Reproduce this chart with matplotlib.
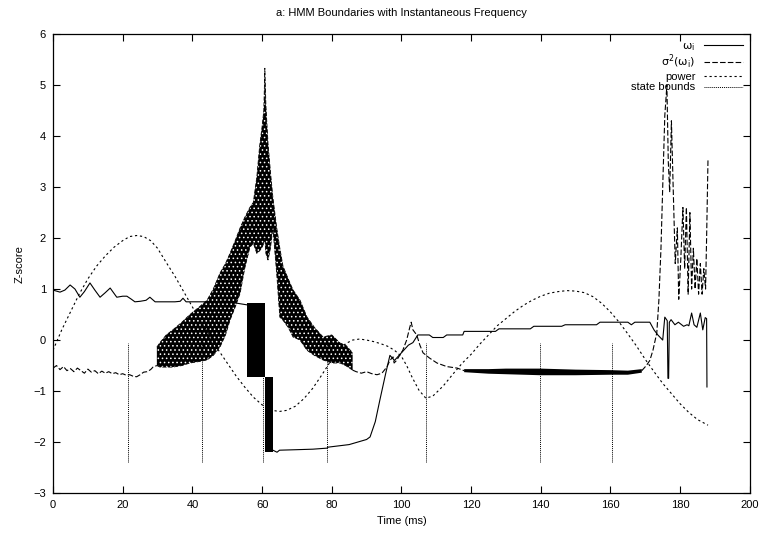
import matplotlib
import numpy as np

matplotlib.use("Agg")
import matplotlib.pyplot as plt

plt.rcParams["font.family"] = ["Liberation Sans", "DejaVu Sans"]
plt.rcParams["hatch.linewidth"] = 0.6

# omega_i (solid), split around the fast-switching block
omega_x1 = [0, 1, 2, 3.4, 4.9, 6.3, 7.7, 9, 10.6, 12, 13.5, 15, 16.4, 18.3, 20, 21.2, 22.5,
            23.5, 25, 26.7, 27.8, 29.3, 32, 35, 36.5, 37.3, 38.2, 40, 45, 50, 53, 55.7]
omega_y1 = [0.98, 0.96, 0.94, 0.98, 1.08, 1.0, 0.84, 0.95, 1.12, 0.98, 0.84, 0.93, 1.02, 0.84,
            0.86, 0.86, 0.8, 0.75, 0.76, 0.78, 0.84, 0.75, 0.75, 0.75, 0.76, 0.82, 0.75, 0.75,
            0.75, 0.76, 0.72, 0.69]
# fast-switching blocks: (x start, x end, low, high)
omega_blocks = [(55.7, 60.8, -0.73, 0.72), (60.8, 63.1, -2.2, -0.73)]
omega_x2 = [63.1, 64.3, 65, 70, 74.6, 78.6, 79, 85, 90, 91, 92.5, 93.8, 95.5, 96.7, 98, 100,
            102, 103.3, 104.7, 108, 109, 112, 113, 117.6, 118, 127, 128, 137, 138, 146, 147,
            156, 157, 165, 166, 167, 171.3, 172.5, 173.6, 175, 175.6, 176.3, 176.5, 176.7,
            176.9, 177.4, 178.5, 179.5, 181, 182, 182.5, 183.3, 184, 184.8, 185.8, 186.5,
            187.2, 187.6, 187.7]
omega_y2 = [-2.16, -2.2, -2.16, -2.15, -2.14, -2.12, -2.1, -2.05, -1.95, -1.9, -1.6, -1.18,
            -0.65, -0.3, -0.4, -0.25, -0.1, -0.05, 0.1, 0.1, 0.05, 0.05, 0.1, 0.1, 0.17, 0.17,
            0.22, 0.22, 0.27, 0.27, 0.3, 0.3, 0.35, 0.35, 0.3, 0.35, 0.35, 0.2, 0.1, 0.0, 0.45,
            0.38, -0.75, -0.75, 0.35, 0.4, 0.3, 0.35, 0.27, 0.3, 0.28, 0.53, 0.3, 0.25, 0.53,
            0.2, 0.44, 0.42, -0.92]

# sigma^2(omega_i) (dashed): line pieces + oscillating bands (envelopes)
var_x1 = [0, 1, 2, 3, 4, 5, 6, 7, 8, 9, 10, 11, 12, 13, 14, 15, 16, 17, 18, 19, 20, 21, 22,
          23, 24, 25, 26, 27, 28, 28.7, 29.8]
var_y1 = [-0.55, -0.5, -0.58, -0.52, -0.6, -0.56, -0.62, -0.55, -0.6, -0.65, -0.57, -0.63,
          -0.6, -0.66, -0.61, -0.65, -0.62, -0.66, -0.64, -0.68, -0.66, -0.69, -0.68, -0.71,
          -0.72, -0.68, -0.63, -0.62, -0.58, -0.53, -0.5]
band1_x = [29.8, 30.7, 32.5, 34.4, 37, 39.3, 42, 44.2, 46, 47.9, 49.5, 50.8, 52.3, 53.7, 55,
           56.5, 57.5, 58.5, 59.3, 60, 60.5, 60.8, 61.1, 61.7, 62.4, 63.1, 64.2, 65.1, 66, 67.5,
           68.9, 70.9, 72.9, 75, 77.5, 80, 82.4, 84, 86]
band1_hi = [-0.14, -0.05, 0.1, 0.2, 0.35, 0.5, 0.65, 0.78, 1.0, 1.31, 1.5, 1.7, 1.95, 2.2, 2.4,
            2.6, 2.7, 3.2, 3.8, 4.18, 4.5, 5.33, 4.6, 3.86, 3.3, 2.8, 2.2, 1.8, 1.45, 1.2, 0.98,
            0.78, 0.45, 0.25, 0.06, 0.1, -0.06, -0.1, -0.25]
band1_lo = [-0.5, -0.53, -0.53, -0.53, -0.5, -0.45, -0.42, -0.39, -0.3, -0.14, 0.1, 0.39, 0.65,
            0.92, 1.4, 1.82, 1.9, 1.7, 1.75, 1.82, 1.9, 2.0, 1.7, 1.57, 1.8, 2.2, 1.31, 0.45,
            0.39, 0.25, 0.06, 0.0, -0.2, -0.3, -0.39, -0.45, -0.45, -0.5, -0.59]
var_x2 = [86, 87, 88.5, 90, 91.5, 93, 94.4, 95.8, 96.7, 97.6, 97.9, 98.6, 99.5, 100.4, 101.5,
          102.4, 102.8, 103.3, 104.4, 105.3, 106.2, 108, 110.2, 113, 116, 118]
var_y2 = [-0.59, -0.62, -0.65, -0.62, -0.66, -0.68, -0.65, -0.53, -0.4, -0.33, -0.45, -0.4,
          -0.3, -0.2, 0.0, 0.25, 0.35, 0.2, 0.1, -0.1, -0.25, -0.35, -0.45, -0.52, -0.55, -0.6]
band2_x = [118, 125, 130, 140, 150, 160, 165, 169]
band2_hi = [-0.57, -0.57, -0.56, -0.56, -0.58, -0.59, -0.6, -0.57]
band2_lo = [-0.63, -0.66, -0.67, -0.69, -0.69, -0.68, -0.68, -0.64]
var_x3 = [169, 170.3, 171.3, 172.2, 173.3, 173.9, 174.5, 175, 175.6, 176.2, 176.6, 177, 177.5,
          178, 178.6, 179.2, 179.6, 180.2, 180.8, 181.3, 181.8, 182.3, 182.8, 183.3, 183.8,
          184.3, 184.8, 185.3, 185.8, 186.3, 186.8, 187.3, 187.6, 188]
var_y3 = [-0.6, -0.5, -0.4, -0.2, 0.14, 0.78, 1.8, 3.0, 4.4, 5.0, 3.5, 2.9, 4.3, 3.0, 1.5, 2.2,
          0.8, 1.6, 2.6, 1.4, 2.6, 0.9, 2.5, 1.0, 1.8, 1.0, 1.6, 0.9, 1.5, 0.9, 1.4, 1.0, 2.0,
          3.55]

# power (short dashes)
power_x = [0, 2.5, 5, 7.5, 10, 12.5, 15, 17.5, 20, 22, 24, 26, 28, 30, 32.5, 35, 37.5, 40, 42.5,
           45, 47.5, 50, 52.5, 55, 57.5, 60, 63, 65, 67, 69.5, 72, 74.5, 77, 78.6, 80, 82, 84,
           86, 88, 90, 92, 94, 96, 98, 100, 101.5, 103, 105, 107, 109, 112, 115, 117.5, 120,
           122.5, 125, 127.5, 130, 132.5, 135, 137.5, 140, 142.5, 145, 147.5, 150, 152.5, 155,
           157.5, 160, 162.5, 165, 167.5, 170, 172.5, 175, 177.5, 180, 182.5, 185, 188]
power_y = [-0.2, 0.2, 0.55, 0.9, 1.2, 1.45, 1.65, 1.82, 1.95, 2.03, 2.05, 2.03, 1.95, 1.8, 1.52,
           1.25, 0.95, 0.65, 0.35, 0.1, -0.2, -0.45, -0.7, -0.92, -1.12, -1.27, -1.38, -1.4,
           -1.38, -1.3, -1.15, -0.95, -0.7, -0.53, -0.38, -0.2, -0.07, 0.0, 0.02, 0.0, -0.03,
           -0.07, -0.12, -0.2, -0.32, -0.5, -0.72, -0.98, -1.14, -1.1, -0.9, -0.65, -0.45,
           -0.28, -0.08, 0.1, 0.28, 0.42, 0.56, 0.68, 0.78, 0.86, 0.92, 0.95, 0.97, 0.96, 0.93,
           0.85, 0.72, 0.55, 0.35, 0.12, -0.12, -0.38, -0.62, -0.85, -1.05, -1.25, -1.42,
           -1.56, -1.67]

# HMM state boundaries (dotted verticals)
bounds = [21.5, 42.8, 60.3, 78.6, 107, 139.7, 160.4]
bound_top, bound_bottom = -0.05, -2.4

fig = plt.figure(figsize=(7.62, 5.33), dpi=100)
ax = fig.add_axes([0.0696, 0.075, 0.9144, 0.861])

lw = 0.8
omega_line, = ax.plot(omega_x1, omega_y1, color="black", lw=lw, label=r"$\mathrm{\omega_i}$")
ax.plot(omega_x2, omega_y2, color="black", lw=lw)
for x0, x1, lo, hi in omega_blocks:
    ax.fill_between([x0, x1], [lo, lo], [hi, hi], color="black", lw=0)

dash_var = (0, (5, 2))
var_line, = ax.plot(var_x1, var_y1, color="black", lw=lw, ls=dash_var,
                    label=r"$\mathrm{\sigma^2(\omega_i)}$")
ax.fill_between(band1_x, band1_lo, band1_hi, facecolor="black", edgecolor="white",
                hatch="....", lw=0)
ax.plot(band1_x, band1_hi, color="black", lw=0.6, ls=dash_var)
ax.plot(band1_x, band1_lo, color="black", lw=0.6, ls=dash_var)
ax.plot(var_x2, var_y2, color="black", lw=lw, ls=dash_var)
ax.fill_between(band2_x, band2_lo, band2_hi, facecolor="black", lw=0)
ax.plot(var_x3, var_y3, color="black", lw=lw, ls=dash_var)

power_line, = ax.plot(power_x, power_y, color="black", lw=lw, ls=(0, (2, 2.5)), label="power")
ax.vlines(bounds, bound_bottom, bound_top, colors="black", lw=0.7, linestyles=(0, (1, 1)))
bound_line, = ax.plot([], [], color="black", lw=0.7, ls=(0, (1, 1)), label="state bounds")

ax.set_xlim(0, 200)
ax.set_ylim(-3, 6)
ax.set_xticks(range(0, 201, 20))
ax.set_yticks(range(-3, 7))
ax.tick_params(direction="in", top=True, right=True, length=5, width=0.8, labelsize=8,
               pad=5)
for sp in ax.spines.values():
    sp.set_linewidth(0.9)

ax.set_title("a: HMM Boundaries with Instantaneous Frequency", fontsize=8, pad=13)
ax.set_xlabel("Time (ms)", fontsize=8, labelpad=4)
ax.set_ylabel("Z-score", fontsize=8, labelpad=6)

leg = ax.legend(handles=[omega_line, var_line, power_line, bound_line], loc="upper right",
                frameon=False, markerfirst=False, fontsize=8, handlelength=3.5,
                labelspacing=0.05, borderaxespad=0.2, handletextpad=0.8)
for t in leg.get_texts():
    t.set_ha("right")

fig.savefig("out.png", dpi=100)
